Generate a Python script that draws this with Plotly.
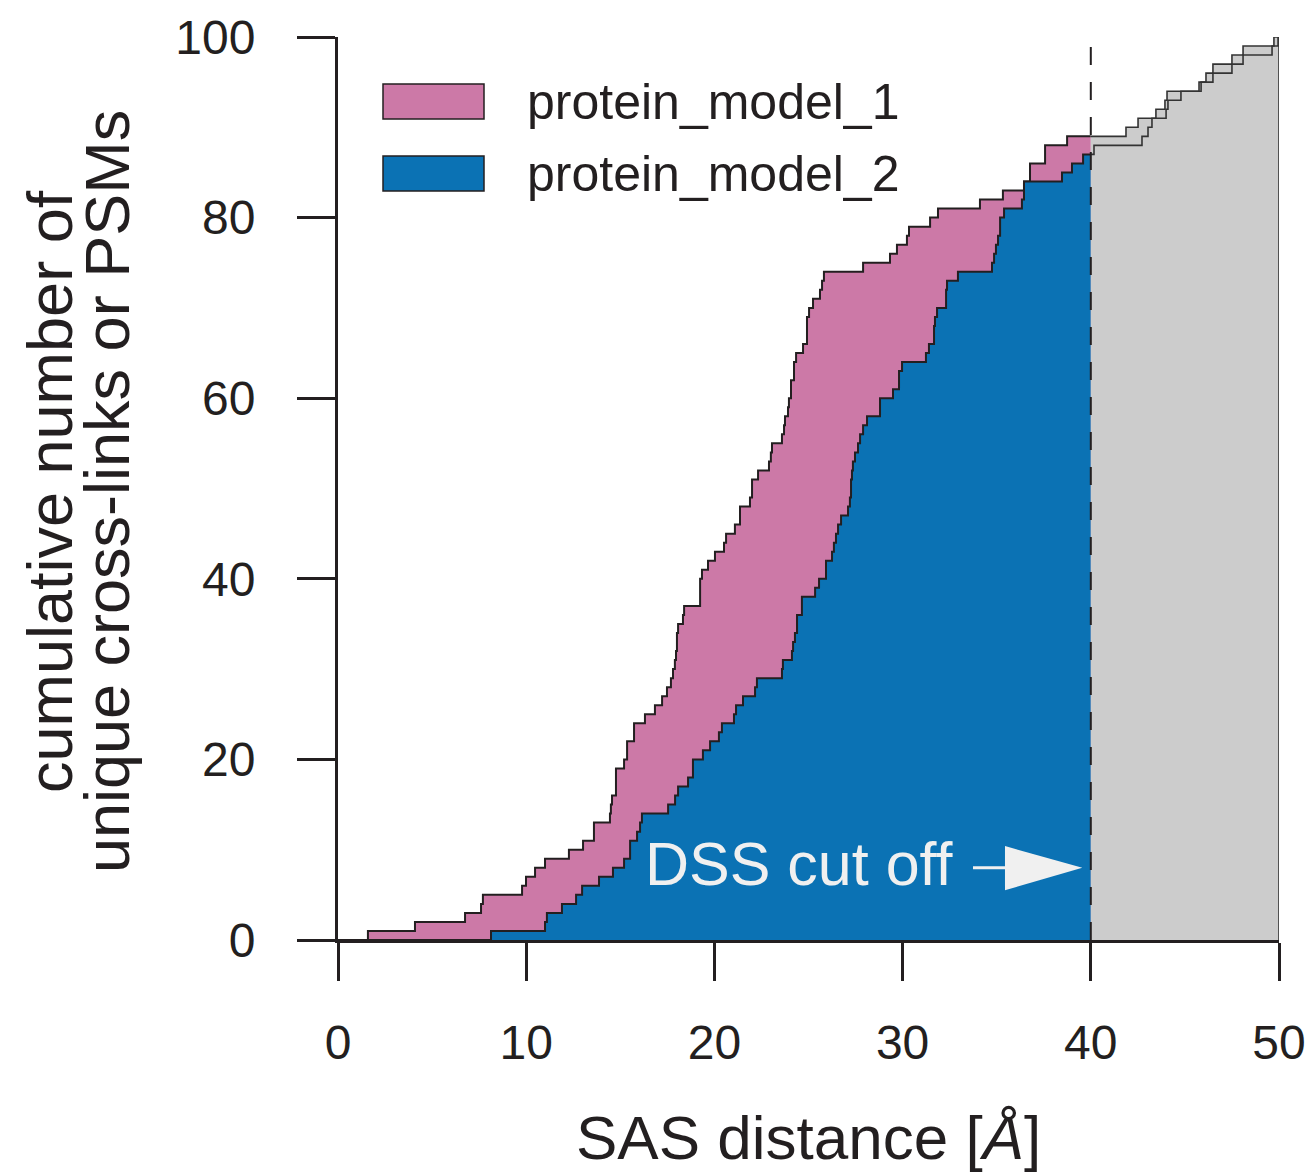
import plotly.graph_objects as go

# ---- data: cumulative step curves (x = SAS distance where the count steps, y = count after step)
model1_x = [1.59, 4.09, 6.75, 7.60, 7.70, 9.78, 9.99, 10.47, 11.00, 12.27, 13.02, 13.60,
            14.45, 14.50, 14.56, 14.77, 15.20, 15.36, 15.73, 16.31, 16.84, 17.22, 17.48,
            17.69, 17.80, 17.90, 17.96, 18.01, 18.07, 18.33, 18.39, 19.24, 19.34, 19.66,
            20.03, 20.51, 20.62, 21.09, 21.36, 21.89, 22.00, 22.32, 22.90, 23.00, 23.06,
            23.59, 23.70, 23.75, 23.91, 23.96, 24.07, 24.23, 24.34, 24.71, 24.92, 25.03,
            25.24, 25.61, 25.72, 25.82, 27.90, 29.33, 29.70, 30.23, 30.34, 31.46, 31.88,
            34.11, 35.33, 36.45, 36.77, 37.57, 38.74, 41.87, 42.51, 43.46, 43.94, 44.05,
            45.75, 46.12, 46.49, 47.50, 48.09, 49.73]
model1_y = [1, 2, 3, 4, 5, 6, 7, 8, 9, 10, 11, 13,
            14, 15, 16, 19, 20, 22, 24, 25, 26, 27, 28,
            29, 30, 31, 32, 34, 35, 36, 37, 40, 41, 42,
            43, 44, 45, 46, 48, 49, 51, 52, 53, 54, 55,
            56, 57, 58, 59, 60, 62, 64, 65, 66, 69, 70,
            71, 72, 73, 74, 75, 76, 77, 78, 79, 80, 81,
            82, 83, 84, 86, 88, 89, 90, 91, 92, 93, 94,
            95, 96, 97, 98, 99, 100]

model2_x = [8.13, 11.00, 11.10, 11.90, 12.65, 12.97, 13.87, 14.61, 15.20, 15.52, 15.89,
            16.05, 16.15, 17.54, 17.91, 18.07, 18.60, 18.86, 19.39, 19.77, 20.24, 20.40,
            21.04, 21.15, 21.52, 22.16, 22.26, 23.59, 23.64, 24.12, 24.18, 24.28, 24.39,
            24.65, 25.35, 25.56, 25.93, 26.25, 26.35, 26.46, 26.57, 26.73, 27.10, 27.20,
            27.26, 27.31, 27.36, 27.47, 27.63, 27.74, 27.90, 28.11, 28.80, 29.49, 29.81,
            29.97, 31.24, 31.40, 31.67, 31.72, 31.83, 32.31, 32.36, 32.94, 34.75, 34.86,
            34.96, 35.07, 35.18, 35.39, 36.34, 36.45, 38.47, 39.00, 39.59, 40.17, 42.72,
            43.04, 43.25, 44.00, 44.10, 44.79, 45.86, 46.49, 47.50, 48.09, 49.63, 49.95]
model2_y = [1, 2, 3, 4, 5, 6, 7, 8, 9, 11, 12,
            13, 14, 15, 16, 17, 18, 20, 21, 22, 23, 24,
            25, 26, 27, 28, 29, 30, 31, 32, 33, 34, 36,
            38, 39, 40, 42, 43, 44, 45, 46, 47, 48, 49,
            51, 52, 53, 54, 55, 56, 57, 58, 60, 61, 63,
            64, 65, 66, 68, 69, 70, 72, 73, 74, 75, 76,
            77, 78, 80, 81, 82, 84, 85, 86, 87, 88, 89,
            90, 91, 92, 93, 94, 95, 96, 97, 98, 99, 100]

series_names = ["protein_model_1", "protein_model_2"]
cutoff = 40
x_max = 50
x_ticks = [0, 10, 20, 30, 40, 50]
y_ticks = [0, 20, 40, 60, 80, 100]

PINK = "#CC79A7"
BLUE = "#0B72B4"
GREY = "#CCCCCC"
INK = "#231F20"
FONT = "Liberation Sans, Arial, Helvetica, sans-serif"


def split(xs, ys, cut, xmax):
    below = [(x, y) for x, y in zip(xs, ys) if x < cut]
    last = below[-1][1] if below else 0
    ix = [0] + [p[0] for p in below] + [cut]
    iy = [0] + [p[1] for p in below] + [last]
    above = [(x, y) for x, y in zip(xs, ys) if x > cut]
    ox = [cut] + [p[0] for p in above] + [xmax]
    oy = [last] + [p[1] for p in above] + [above[-1][1] if above else last]
    return ix, iy, ox, oy


m1_ix, m1_iy, m1_ox, m1_oy = split(model1_x, model1_y, cutoff, x_max)
m2_ix, m2_iy, m2_ox, m2_oy = split(model2_x, model2_y, cutoff, x_max)

fig = go.Figure()
fig.add_trace(go.Scatter(x=m1_ix, y=m1_iy, mode="lines", line_shape="hv", fill="tozeroy",
                         fillcolor=PINK, line=dict(color=INK, width=2), name=series_names[0],
                         showlegend=False, hoverinfo="skip"))
fig.add_trace(go.Scatter(x=m2_ix, y=m2_iy, mode="lines", line_shape="hv", fill="tozeroy",
                         fillcolor=BLUE, line=dict(color=INK, width=2), name=series_names[1],
                         showlegend=False, hoverinfo="skip"))
# beyond the cut-off: grey area
fig.add_trace(go.Scatter(x=m1_ox + [x_max], y=m1_oy + [0], mode="lines", line_shape="hv",
                         fill="tozeroy", fillcolor=GREY, line=dict(color="#333333", width=1.6),
                         showlegend=False, hoverinfo="skip"))
fig.add_trace(go.Scatter(x=m2_ox, y=m2_oy, mode="lines", line_shape="hv",
                         line=dict(color="#333333", width=1.6),
                         showlegend=False, hoverinfo="skip"))

# dashed cut-off line
fig.add_shape(type="line", x0=cutoff, x1=cutoff, y0=0, y1=100, xref="x", yref="y",
              line=dict(color=INK, width=2, dash="18px,17px"), layer="above")

# "DSS cut off" label and arrow
fig.add_annotation(x=16.2, y=8.4, xref="x", yref="y", text="DSS cut off", showarrow=False,
                   xanchor="left", yanchor="middle",
                   font=dict(family=FONT, size=61, color="#F0F0F0"))
fig.add_shape(type="line", x0=33.74, x1=36.0, y0=8.0, y1=8.0, xref="x", yref="y",
              line=dict(color="#F0F0F0", width=3), layer="above")
fig.add_shape(type="path", path="M 35.44 10.4 L 39.55 8.0 L 35.44 5.5 Z", xref="x", yref="y",
              fillcolor="#F0F0F0", line=dict(color="#F0F0F0", width=0), layer="above")

# manual legend
W, H = 941.0, 903.0
for i, (name, col) in enumerate(zip(series_names, [PINK, BLUE])):
    top = 84 + i * 72
    fig.add_shape(type="rect", xref="paper", yref="paper",
                  x0=45 / W, x1=146 / W, y0=(940 - (top + 35)) / H, y1=(940 - top) / H,
                  fillcolor=col, line=dict(color=INK, width=1.5), layer="above")
    fig.add_annotation(xref="paper", yref="paper", x=187 / W, y=(940 - (top + 18)) / H,
                       text=name, showarrow=False, xanchor="left", yanchor="middle",
                       font=dict(family=FONT, size=50, color=INK))

# axis titles
fig.add_annotation(xref="paper", yref="paper", x=0.5, y=-0.219, text="SAS distance [<i>Å</i>]",
                   showarrow=False, xanchor="center", yanchor="middle",
                   font=dict(family=FONT, size=62, color=INK))
fig.add_annotation(xref="paper", yref="paper", x=(50 - 338) / W, y=0.496, text="cumulative number of",
                   showarrow=False, textangle=-90, xanchor="center", yanchor="middle",
                   font=dict(family=FONT, size=63, color=INK))
fig.add_annotation(xref="paper", yref="paper", x=(107 - 338) / W, y=0.496,
                   text="unique cross-links or PSMs",
                   showarrow=False, textangle=-90, xanchor="center", yanchor="middle",
                   font=dict(family=FONT, size=63, color=INK))

axis_common = dict(showgrid=False, zeroline=False, showline=True, linecolor=INK, linewidth=3,
                   ticks="outside", ticklen=38, tickwidth=3, tickcolor=INK, automargin=False,
                   tickfont=dict(family=FONT, size=48, color=INK))
fig.update_xaxes(range=[0, x_max], tickvals=x_ticks, ticklabelstandoff=20, **axis_common)
fig.update_yaxes(range=[0, 100], tickvals=y_ticks, ticklabelstandoff=32, **axis_common)

fig.update_layout(width=1309, height=1172, margin=dict(l=338, r=30, t=37, b=232, autoexpand=False),
                  plot_bgcolor="white", paper_bgcolor="white", showlegend=False,
                  font=dict(family=FONT, color=INK))

# remove the default page margin so the figure fills the window exactly
fig.write_html("out.html", config={"displayModeBar": False, "staticPlot": True},
               post_script="document.body.style.margin='0px';document.body.style.overflow='hidden';")
